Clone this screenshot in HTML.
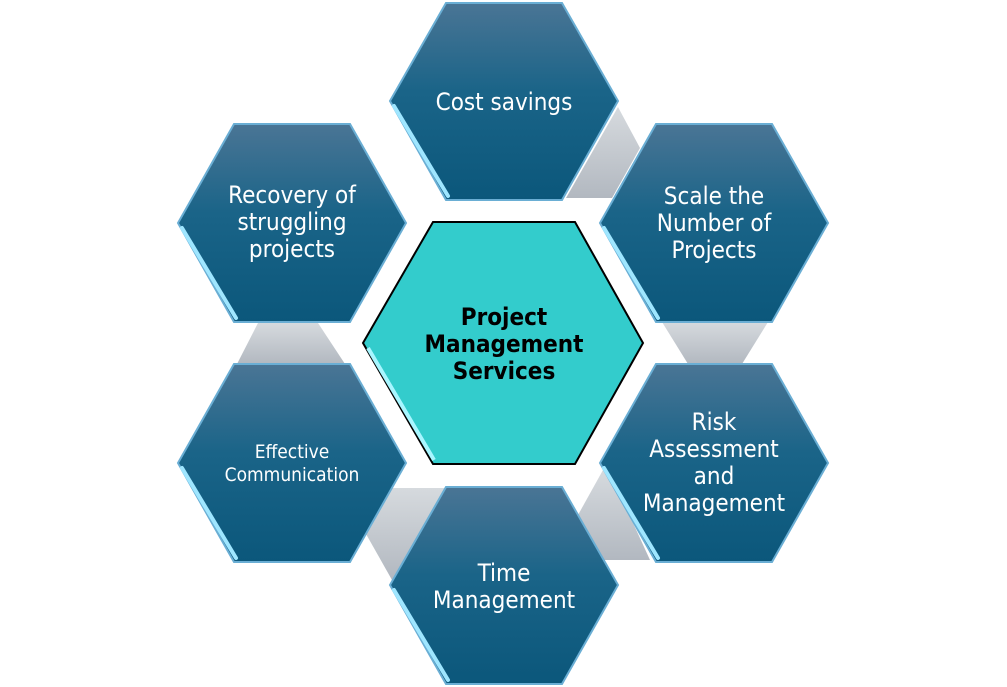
<!DOCTYPE html>
<html><head><meta charset="utf-8"><style>
html,body{margin:0;padding:0;background:#fff;}
svg{display:block;}
text{font-family:"DejaVu Sans Condensed","DejaVu Sans","Liberation Sans",sans-serif;}
</style></head><body>
<svg width="1007" height="687" viewBox="0 0 1007 687" xmlns="http://www.w3.org/2000/svg">
<defs>
<linearGradient id="hg" x1="0" y1="0" x2="0" y2="1">
<stop offset="0" stop-color="#4a7595"/><stop offset="0.45" stop-color="#1a6488"/><stop offset="1" stop-color="#0b577b"/>
</linearGradient>
<linearGradient id="gg" x1="0" y1="0" x2="0" y2="1">
<stop offset="0" stop-color="#d6dade"/><stop offset="1" stop-color="#b2b8c0"/>
</linearGradient>
</defs>
<g fill="url(#gg)">
<polygon points="618,107 640,148 612,198 566,198"/>
<polygon points="258,323 318,323 345,364 237,364"/>
<polygon points="392,488 446,488 392,580 366,534"/>
<polygon points="662,322 768,322 742,364 688,364"/>
<polygon points="603,470 628,512 650,560 578,560 578,515"/>
</g>
<g stroke="#6aaed4" stroke-width="2" fill="url(#hg)">
<polygon points="446,3 562,3 618,101 562,200 446,200 390,101"/>
<polygon points="234,124 350,124 406,223 350,322 234,322 178,223"/>
<polygon points="656,124 772,124 828,223 772,322 656,322 600,223"/>
<polygon points="234,364 350,364 406,463 350,562 234,562 178,463"/>
<polygon points="656,364 772,364 828,463 772,562 656,562 600,463"/>
<polygon points="446,487 562,487 618,585 562,684 446,684 390,585"/>
</g>
<g stroke="#9fe6ff" stroke-width="4" fill="none" stroke-linecap="round">
<line x1="394" y1="106" x2="448" y2="196"/>
<line x1="182" y1="228" x2="236" y2="318"/>
<line x1="604" y1="228" x2="658" y2="318"/>
<line x1="182" y1="468" x2="236" y2="558"/>
<line x1="604" y1="468" x2="658" y2="558"/>
<line x1="394" y1="590" x2="448" y2="680"/>
</g>
<polygon points="433,222 575,222 643,343 575,464 433,464 363,343" fill="#33cccc" stroke="#000" stroke-width="2"/>
<line x1="368" y1="348" x2="434" y2="460" stroke="#a8f6ff" stroke-width="4"/>
<g fill="#fff" font-size="24" text-anchor="middle">
<text x="504" y="110">Cost savings</text>
<text x="292" y="203">Recovery of</text>
<text x="292" y="230">struggling</text>
<text x="292" y="257">projects</text>
<text x="714" y="204">Scale the</text>
<text x="714" y="231">Number of</text>
<text x="714" y="258">Projects</text>
<text x="714" y="430">Risk</text>
<text x="714" y="457">Assessment</text>
<text x="714" y="484">and</text>
<text x="714" y="511">Management</text>
<text x="504" y="581">Time</text>
<text x="504" y="608">Management</text>
<text x="292" y="458" font-size="19">Effective</text>
<text x="292" y="481" font-size="19">Communication</text>
</g>
<g fill="#000" font-size="24" font-weight="bold" text-anchor="middle">
<text x="504" y="325">Project</text>
<text x="504" y="352">Management</text>
<text x="504" y="379">Services</text>
</g>
</svg>
</body></html>
